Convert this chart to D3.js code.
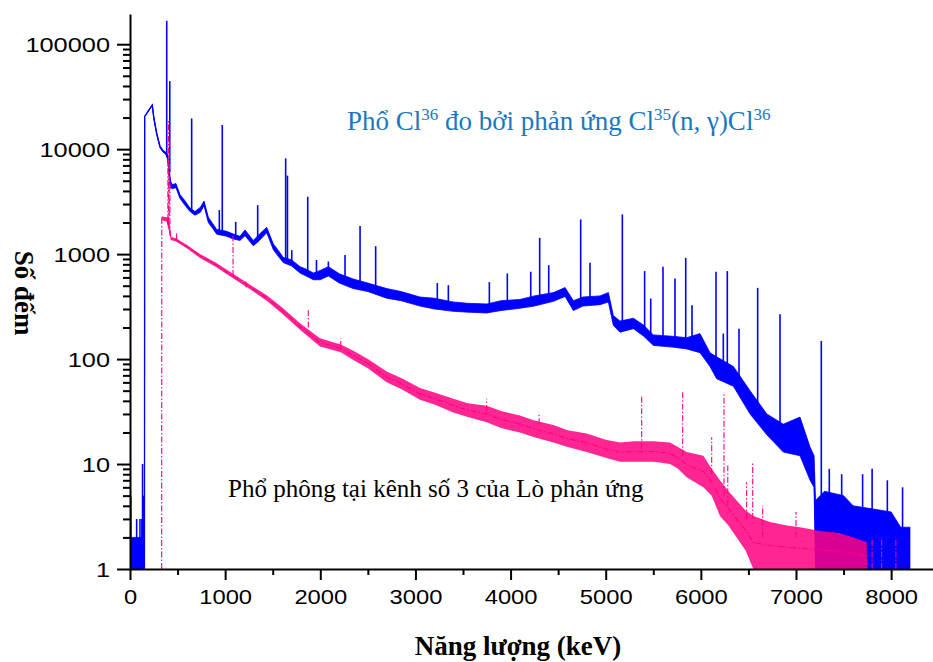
<!DOCTYPE html>
<html lang="vi">
<head>
<meta charset="utf-8" />
<title>Phổ Cl36</title>
<script src="https://cdn.jsdelivr.net/npm/d3@7/dist/d3.min.js"></script>
<style>
  body { margin: 0; background: #fff; }
  svg { display: block; }
</style>
</head>
<body>
<svg id="chart" width="933" height="662"></svg>
<script>
// ---- data: [keV, low, high] of the noise band ----
const blueContinuum = [
  [0, 1, 2], [60, 1, 2], [148, 1, 2], [152, 1, 1],
  [154, 20500, 20500], [195, 23000, 23500], [234, 26000, 26500], [250, 19500, 20500],
  [280, 13800, 14500], [315, 10300, 10800], [350, 9300, 9700], [375, 9000, 9400],
  [395, 8000, 9000], [425, 4300, 5000], [445, 4200, 4600], [483, 4300, 4700],
  [525, 3400, 3700], [580, 2900, 3200], [630, 2550, 2750], [683, 2350, 2550],
  [740, 2500, 2800], [778, 2900, 3200], [823, 2000, 2250], [870, 1750, 1950],
  [911, 1550, 1720], [1016, 1480, 1650], [1080, 1400, 1560], [1156, 1350, 1480],
  [1209, 1500, 1700], [1296, 1200, 1350], [1360, 1350, 1550], [1437, 1600, 1800],
  [1507, 1100, 1250], [1560, 950, 1080], [1611, 830, 930], [1700, 770, 880],
  [1787, 660, 760], [1850, 620, 720], [1927, 570, 660], [2000, 570, 700],
  [2085, 620, 760], [2200, 530, 650], [2345, 470, 580], [2500, 440, 530],
  [2698, 380, 470], [2850, 360, 440], [3048, 320, 390], [3200, 300, 380],
  [3397, 285, 350], [3550, 280, 340], [3749, 275, 335], [3900, 290, 360],
  [4099, 305, 370], [4250, 320, 400], [4450, 355, 430], [4573, 395, 480],
  [4660, 290, 360], [4760, 320, 390], [4940, 330, 400], [5028, 350, 430],
  [5080, 210, 260], [5150, 180, 230], [5291, 195, 245], [5400, 165, 210],
  [5500, 135, 170], [5700, 130, 165], [5851, 125, 160], [5991, 115, 175],
  [6096, 85, 115], [6166, 65, 105], [6342, 55, 85], [6517, 30, 50],
  [6693, 19, 30], [6867, 13, 24], [7042, 12, 28], [7148, 7, 14.5],
  [7190, 6, 12], [7205, 1, 4.5], [7300, 1, 5.5], [7500, 1, 5],
  [7600, 1, 4], [8000, 1, 3.5], [8100, 1, 2.5], [8198, 1, 2.5]
];

// [keV, base, top] of the blue lines
const bluePeaks = [
  [8, 1, 5], [70, 1, 3], [105, 1, 3], [125, 1, 3], [132, 1, 10], [140, 1, 5],
  [386, 9000, 167000], [418, 6000, 44500], [648, 2600, 19600], [939, 1600, 2630],
  [970, 1600, 17000], [1111, 1450, 2030], [1342, 1300, 2930], [1636, 850, 8170],
  [1655, 850, 5600], [1700, 800, 1090], [1868, 650, 3520], [1960, 600, 880],
  [2085, 650, 850], [2260, 560, 980], [2418, 520, 1850], [2582, 450, 1190],
  [3230, 330, 530], [3346, 310, 506], [3777, 320, 541], [3966, 320, 655],
  [4212, 350, 680], [4306, 350, 1430], [4401, 380, 785], [4737, 330, 2140],
  [4835, 360, 826], [5175, 200, 2390], [5409, 180, 689], [5473, 160, 378],
  [5602, 150, 757], [5728, 150, 587], [5841, 140, 922], [5907, 140, 326],
  [6159, 90, 678], [6236, 80, 175], [6278, 80, 689], [6401, 60, 195],
  [6597, 35, 477], [6832, 20, 268], [7266, 5, 149], [7350, 4, 9],
  [7480, 4, 8], [7700, 3, 8], [7800, 3, 9], [7960, 3, 7], [8120, 2, 6]
];

const pinkContinuum = [
  [333, 1, 1], [334, 2100, 2300], [385, 2050, 2250], [392, 1900, 2300],
  [422, 1500, 1800], [428, 1360, 1460], [483, 1320, 1420], [600, 1130, 1220],
  [736, 920, 1000], [900, 760, 830], [1083, 590, 650], [1250, 470, 520],
  [1437, 360, 405], [1600, 270, 310], [1787, 190, 220], [1997, 132, 158],
  [2215, 116, 138], [2347, 98, 120], [2500, 82, 100], [2698, 60, 76],
  [2850, 52, 66], [3048, 41, 53], [3200, 37, 48], [3398, 31, 42],
  [3550, 28, 38], [3749, 25, 36], [3900, 22, 32], [4099, 20, 29],
  [4250, 18, 26], [4450, 16, 23.5], [4600, 14.5, 21], [4800, 13, 19.5],
  [5000, 11.5, 17], [5150, 10.5, 16], [5300, 10.5, 16.5], [5500, 10.5, 16.5],
  [5676, 10, 16], [5760, 9, 14.5], [5851, 7.5, 13], [6026, 6, 12],
  [6114, 5, 9], [6201, 3.2, 7], [6290, 2.6, 5.5], [6377, 2, 4.5],
  [6470, 1.5, 3.6], [6552, 1, 3.2], [6727, 1, 2.8], [6902, 1, 2.6],
  [7042, 1, 2.5], [7252, 1, 2.3], [7450, 1, 2.2], [7603, 1, 2],
  [7744, 1, 1.8], [7745, 1, 1]
];

const pinkPeaks = [
  [398, 2100, 8000], [405, 2000, 19000], [412, 1800, 12500], [420, 1500, 5000],
  [490, 1380, 1630], [1083, 620, 1500], [1219, 480, 560], [1874, 200, 292],
  [2215, 130, 157], [3749, 32, 42], [4300, 24, 31], [5378, 14, 45],
  [5809, 12, 50.6], [6114, 8, 18], [6243, 5, 48.6], [6283, 4, 9.7],
  [6481, 3, 6.7], [6545, 3, 10.4], [6650, 2, 4], [7000, 2, 3.5],
  [7800, 1, 2], [7900, 1, 2], [8050, 1, 2]
];

const xTicks = [0, 1000, 2000, 3000, 4000, 5000, 6000, 7000, 8000];
const xMinorTicks = [500, 1500, 2500, 3500, 4500, 5500, 6500, 7500];
const yTicks = [1, 10, 100, 1000, 10000, 100000];
const yMinorTicks = [];
yTicks.forEach(d => { for (let k = 2; k <= 9; k++) if (d * k < 194000) yMinorTicks.push(d * k); });

const BLUE = "#0000ff";
const PINK = "#ff0080";

const svg = d3.select("#chart");
const width = +svg.attr("width");
const height = +svg.attr("height");
const margin = { top: 14, right: 0, bottom: 93, left: 130 };

const xScale = d3.scaleLinear().domain([0, 8440]).range([margin.left, width - margin.right]);
const yScale = d3.scaleLog().domain([1, 194000]).range([height - margin.bottom, margin.top]);

svg.append("clipPath").attr("id", "plot-clip")
  .append("rect")
  .attr("x", margin.left).attr("y", margin.top)
  .attr("width", width - margin.left - margin.right)
  .attr("height", height - margin.top - margin.bottom);

const plot = svg.append("g").attr("clip-path", "url(#plot-clip)");

const band = d3.area()
  .x(d => xScale(d[0]))
  .y0(d => yScale(d[1]))
  .y1(d => yScale(d[2]));

const mid = d3.line()
  .x(d => xScale(d[0]))
  .y(d => yScale(Math.sqrt(d[1] * d[2])));

// blue: Cl36 spectrum
plot.append("path").attr("d", band(blueContinuum))
  .attr("fill", BLUE).attr("stroke", BLUE).attr("stroke-width", 0.8);
plot.append("path").attr("d", mid(blueContinuum))
  .attr("fill", "none").attr("stroke", BLUE).attr("stroke-width", 1.3);
plot.selectAll(".blue-peak").data(bluePeaks).enter().append("line")
  .attr("class", "blue-peak")
  .attr("x1", d => xScale(d[0])).attr("x2", d => xScale(d[0]))
  .attr("y1", d => yScale(d[1])).attr("y2", d => yScale(d[2]))
  .attr("stroke", BLUE).attr("stroke-width", 1.6);

// pink: background spectrum, dash-dot
plot.append("path").attr("d", band(pinkContinuum))
  .attr("fill", PINK).attr("fill-opacity", 0.85);
plot.append("path").attr("d", mid(pinkContinuum))
  .attr("fill", "none").attr("stroke", PINK).attr("stroke-width", 1.1)
  .attr("stroke-dasharray", "6,2,1.5,2");
plot.selectAll(".pink-peak").data(pinkPeaks).enter().append("line")
  .attr("class", "pink-peak")
  .attr("x1", d => xScale(d[0])).attr("x2", d => xScale(d[0]))
  .attr("y1", d => yScale(d[1])).attr("y2", d => yScale(d[2]))
  .attr("stroke", PINK).attr("stroke-width", 1.1)
  .attr("stroke-dasharray", "6,2,1.5,2");

// ---- axes ----
const axisFont = "'Liberation Sans', Arial, sans-serif";

const xAxis = svg.append("g")
  .attr("transform", `translate(0, ${yScale(1)})`)
  .call(d3.axisBottom(xScale).tickValues(xTicks).tickSize(11).tickSizeOuter(0).tickPadding(9).tickFormat(d3.format("d")));
svg.append("g")
  .attr("transform", `translate(0, ${yScale(1)})`)
  .call(d3.axisBottom(xScale).tickValues(xMinorTicks).tickSize(6).tickSizeOuter(0).tickFormat(""))
  .select(".domain").remove();

const yAxis = svg.append("g")
  .attr("transform", `translate(${xScale(0)}, 0)`)
  .call(d3.axisLeft(yScale).tickValues(yTicks).tickSize(13).tickSizeOuter(0).tickPadding(7).tickFormat(d3.format("d")));
svg.append("g")
  .attr("transform", `translate(${xScale(0)}, 0)`)
  .call(d3.axisLeft(yScale).tickValues(yMinorTicks).tickSize(7).tickSizeOuter(0).tickFormat(""))
  .select(".domain").remove();

svg.selectAll(".domain, .tick line").attr("stroke", "#000").attr("stroke-width", 2);

xAxis.selectAll("text")
  .style("font-family", axisFont).style("font-size", "21px").attr("fill", "#000")
  .attr("textLength", d => String(d).length * 13.2).attr("lengthAdjust", "spacingAndGlyphs");
yAxis.selectAll("text")
  .style("font-family", axisFont).style("font-size", "21px").attr("fill", "#000")
  .attr("dy", "0.36em")
  .attr("textLength", d => String(d).length * 14.1).attr("lengthAdjust", "spacingAndGlyphs");

// ---- titles ----
const serif = "'Liberation Serif', 'Times New Roman', serif";

svg.append("text")
  .attr("x", 518).attr("y", 655)
  .attr("text-anchor", "middle")
  .style("font-family", serif).style("font-size", "27px").style("font-weight", "700")
  .text("Năng lượng (keV)");

svg.append("text")
  .attr("transform", "translate(15, 293) rotate(90)")
  .attr("text-anchor", "middle")
  .style("font-family", serif).style("font-size", "27px").style("font-weight", "700")
  .text("Số đếm");

// ---- annotations ----
const note1 = svg.append("text")
  .attr("x", 347).attr("y", 130)
  .style("font-family", serif).style("font-size", "27px")
  .attr("fill", "#1a78c2");
const parts1 = [["Phổ Cl", false], ["36", true], [" đo bởi phản ứng Cl", false], ["35", true], ["(n, γ)Cl", false], ["36", true]];
let raised = false;
parts1.forEach(([t, sup]) => {
  const dy = sup === raised ? 0 : (sup ? -10 : 10);
  raised = sup;
  note1.append("tspan").attr("dy", dy).style("font-size", sup ? "17px" : "27px").text(t);
});

svg.append("text")
  .attr("x", 228).attr("y", 497)
  .style("font-family", serif).style("font-size", "25px")
  .attr("fill", "#000")
  .text("Phổ phông tại kênh số 3 của Lò phản ứng");
</script>
</body>
</html>
